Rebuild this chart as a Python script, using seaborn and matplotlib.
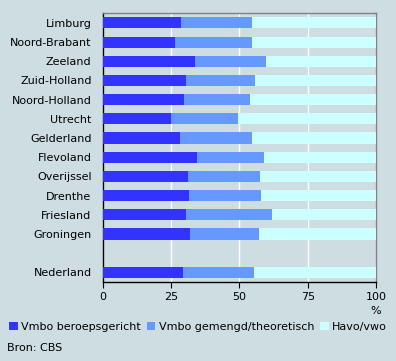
import matplotlib
matplotlib.use("Agg")
import matplotlib.pyplot as plt
from matplotlib.patches import Patch
import seaborn as sns
import pandas as pd

regions = ["Limburg", "Noord-Brabant", "Zeeland", "Zuid-Holland", "Noord-Holland",
           "Utrecht", "Gelderland", "Flevoland", "Overijssel", "Drenthe",
           "Friesland", "Groningen", "Nederland"]
vmbo_beroeps = [28.5, 26.4, 33.7, 30.4, 29.7, 25.0, 28.2, 34.5, 31.2, 31.5, 30.4, 31.9, 29.3]
vmbo_gemengd = [26.0, 28.1, 26.0, 25.2, 24.1, 24.4, 26.3, 24.7, 26.3, 26.3, 31.5, 25.2, 26.0]
havo_vwo = [100 - a - b for a, b in zip(vmbo_beroeps, vmbo_gemengd)]

series_names = ["Vmbo beroepsgericht", "Vmbo gemengd/theoretisch", "Havo/vwo"]
colors = ["#3333ff", "#6699ff", "#ccffff"]
bg = "#cedde2"

df = pd.DataFrame({"region": regions, "a": vmbo_beroeps, "b": vmbo_gemengd, "c": havo_vwo})
df["ab"] = df["a"] + df["b"]
df["abc"] = df["ab"] + df["c"]

order = regions[:12] + [" "] + regions[12:]

plt.rcParams["font.family"] = ["DejaVu Sans"]
plt.rcParams["font.size"] = 8

fig = plt.figure(figsize=(3.96, 3.61), dpi=100, facecolor=bg)
ax = fig.add_axes([102.7 / 396, 1 - 282 / 361, (376 - 102.7) / 396, (282 - 13.3) / 361])
ax.set_facecolor(bg)

for col, c in zip(["abc", "ab", "a"], colors[::-1]):
    sns.barplot(data=df, x=col, y="region", order=order, color=c, width=0.58,
                saturation=1, ax=ax, zorder=3, linewidth=0)

ax.set_xlim(0, 100)
ax.set_ylim(13.5, -0.5)
ax.set_xticks([0, 25, 50, 75, 100])
ax.set_xticklabels(["0", "25", "50", "75", "100"])
ax.grid(axis="x", color="white", linewidth=1, zorder=1)
ax.set_axisbelow(True)
ax.set_xlabel("")
ax.set_ylabel("")
ax.tick_params(axis="y", length=0, pad=8, labelsize=8)
ax.tick_params(axis="x", length=4, direction="out", color="black", pad=3, labelsize=8)
for s in ["left", "bottom"]:
    ax.spines[s].set_color("black")
    ax.spines[s].set_linewidth(1)
for s in ["top", "right"]:
    ax.spines[s].set_color("#808080")
    ax.spines[s].set_linewidth(1)

fig.text(376 / 396, 1 - 311 / 361, "%", ha="center", va="center", fontsize=8)

handles = [Patch(facecolor=c, edgecolor="none") for c in colors]
fig.legend(handles, series_names, loc="center left", bbox_to_anchor=(9 / 396, 1 - 327 / 361),
           ncol=3, frameon=False, handlelength=0.8, handleheight=0.8, handletextpad=0.3,
           columnspacing=0.5, fontsize=8, borderaxespad=0, borderpad=0)
fig.text(7 / 396, 1 - 348 / 361, "Bron: CBS", ha="left", va="center", fontsize=8)

fig.savefig("out.png", dpi=100, facecolor=bg)
